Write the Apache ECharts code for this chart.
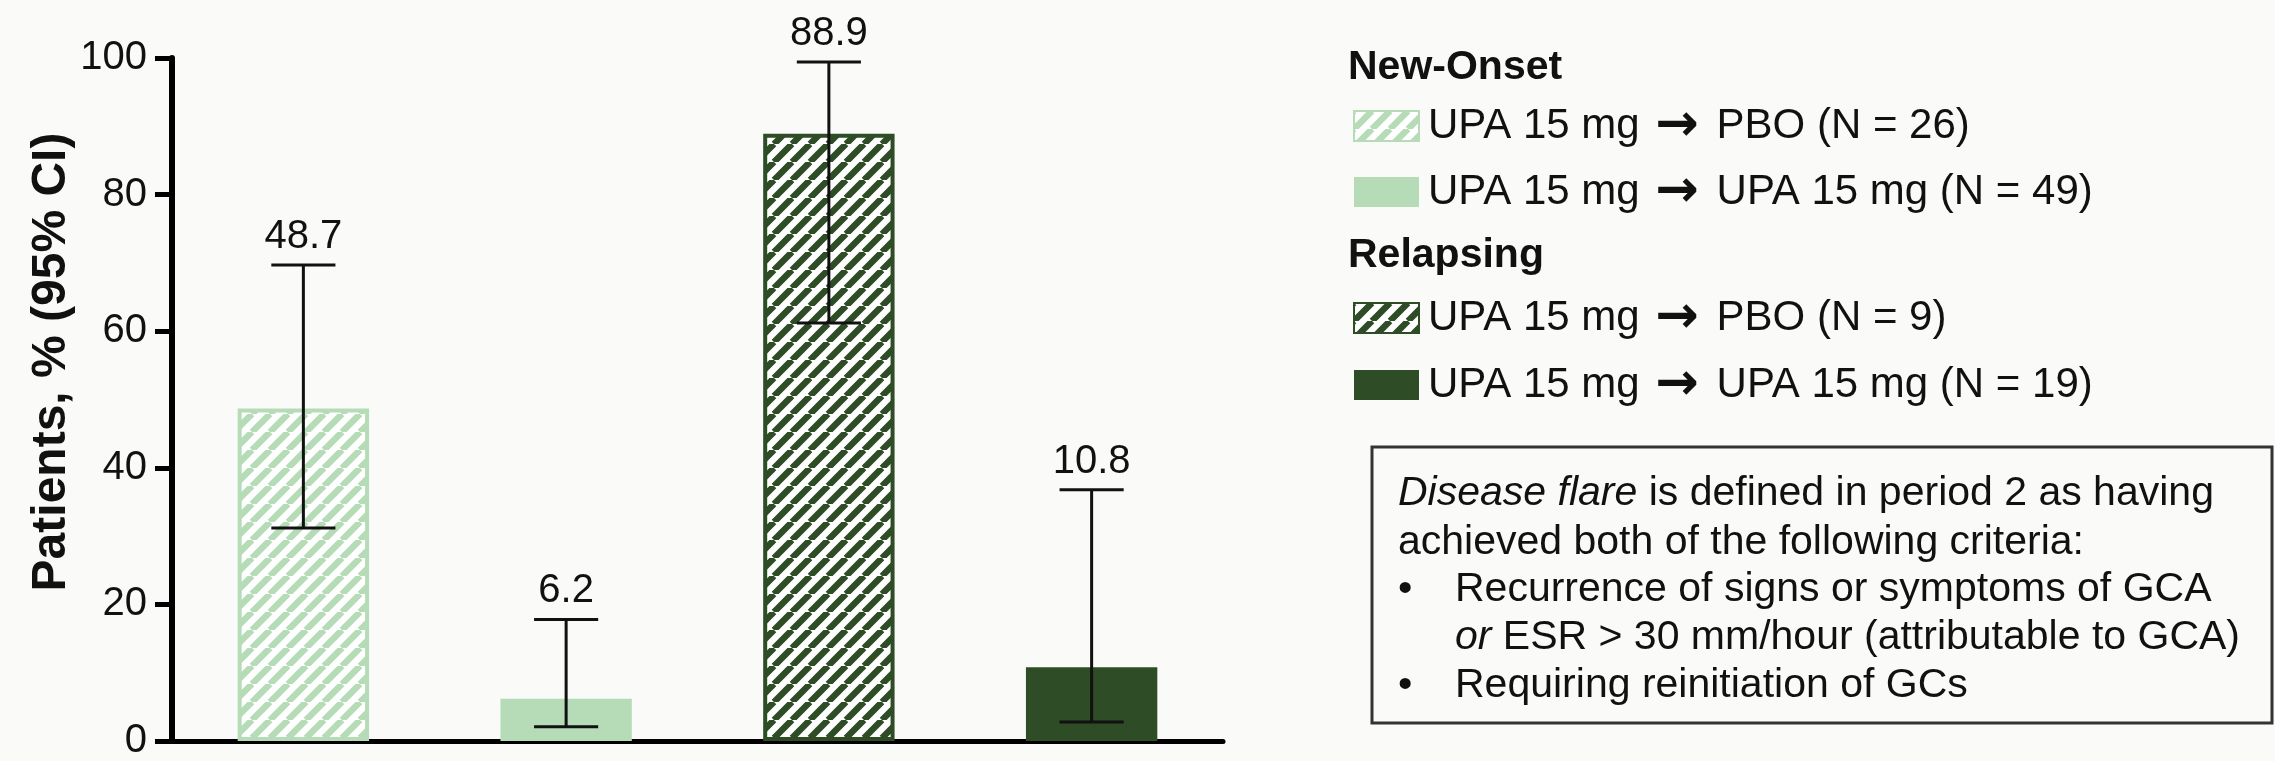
<!DOCTYPE html>
<html>
<head>
<meta charset="utf-8">
<script src="https://cdn.jsdelivr.net/npm/echarts@6/dist/echarts.min.js"></script>
<style>
  html, body { margin: 0; padding: 0; background: #fafaf8; }
  #chart { width: 2275px; height: 761px; }
</style>
</head>
<body>
<div id="chart"></div>
<script>
// data
const categories = ['New-Onset PBO', 'New-Onset UPA', 'Relapsing PBO', 'Relapsing UPA']
const seriesNames = [
  'UPA 15 mg → PBO (N = 26)',
  'UPA 15 mg → UPA 15 mg (N = 49)',
  'UPA 15 mg → PBO (N = 9)',
  'UPA 15 mg → UPA 15 mg (N = 19)'
]
const values = [48.7, 6.2, 88.9, 10.8]
const ciLow = [31.2, 2.1, 61.2, 2.8]
const ciHigh = [69.7, 17.8, 99.4, 36.8]
const yTicks = [0, 20, 40, 60, 80, 100]

const FONT = "'Liberation Sans', Arial, sans-serif"
const light = '#b5dcb7'
const dark = '#2e4c25'

function hatch(color, bg) {
  const s = 18
  const c = document.createElement('canvas')
  c.width = s
  c.height = s
  const ctx = c.getContext('2d')
  ctx.fillStyle = bg
  ctx.fillRect(0, 0, s, s)
  ctx.strokeStyle = color
  ctx.lineWidth = 6.5
  ctx.beginPath()
  for (const k of [-s, 0, s]) {
    ctx.moveTo(k, s)
    ctx.lineTo(k + s, 0)
  }
  ctx.stroke()
  return c
}

const styles = [
  { color: { image: hatch(light, '#ffffff'), repeat: 'repeat' }, borderColor: light, borderWidth: 4 },
  { color: light, borderWidth: 0 },
  { color: { image: hatch(dark, '#ffffff'), repeat: 'repeat' }, borderColor: dark, borderWidth: 4 },
  { color: dark, borderWidth: 0 }
]

const barSeries = seriesNames.map((name, k) => ({
  name: name,
  type: 'bar',
  barWidth: '50%',
  barGap: '-100%',
  itemStyle: styles[k],
  data: categories.map((_, i) => (i === k ? values[i] : '-')),
  z: 2
}))

const errorSeries = {
  type: 'custom',
  z: 5,
  encode: { x: 0, y: [1, 2] },
  data: values.map((v, i) => [i, ciLow[i], ciHigh[i], v]),
  renderItem: function (params, api) {
    const i = api.value(0)
    const top = api.coord([i, api.value(2)])
    const bot = api.coord([i, api.value(1)])
    const half = api.size([1, 0])[0] * 0.122
    const st = { stroke: '#111', lineWidth: 3 }
    return {
      type: 'group',
      children: [
        { type: 'line', shape: { x1: top[0], y1: top[1], x2: bot[0], y2: bot[1] }, style: st },
        { type: 'line', shape: { x1: top[0] - half, y1: top[1], x2: top[0] + half, y2: top[1] }, style: st },
        { type: 'line', shape: { x1: bot[0] - half, y1: bot[1], x2: bot[0] + half, y2: bot[1] }, style: st },
        {
          type: 'text',
          x: top[0],
          y: top[1] - 8,
          style: {
            text: api.value(3).toFixed(1),
            textAlign: 'center',
            textVerticalAlign: 'bottom',
            font: '40px ' + FONT,
            fill: '#111'
          }
        }
      ]
    }
  }
}

const legendText = {
  color: '#111',
  fontSize: 42,
  fontFamily: FONT,
  lineHeight: 30,
  padding: [0, 0, 0, 4],
  rich: {
    a: { fontFamily: 'DejaVu Sans', fontWeight: 'bold', fontSize: 52, lineHeight: 30, color: '#111', padding: [0, 6, 0, 4] }
  }
}
const legendFormatter = name => name.replace('→', '{a|→}')

const myChart = echarts.init(document.getElementById('chart'))
const option = {
  backgroundColor: '#fafaf8',
  animation: false,
  grid: { left: 172, right: 1052, top: 58, bottom: 13, containLabel: false },
  xAxis: {
    type: 'category',
    data: categories,
    axisLine: { show: true, lineStyle: { color: '#000', width: 5 } },
    axisTick: { show: false },
    axisLabel: { show: false }
  },
  yAxis: {
    type: 'value',
    min: yTicks[0],
    max: yTicks[yTicks.length - 1],
    interval: 20,
    axisLine: { show: true, lineStyle: { color: '#000', width: 6 } },
    axisTick: { show: true, length: 17, lineStyle: { color: '#000', width: 5 } },
    axisLabel: { fontSize: 40, color: '#111', fontFamily: FONT, margin: 25 },
    splitLine: { show: false }
  },
  legend: [
    {
      orient: 'vertical', left: 1348, top: 95, icon: 'rect',
      itemWidth: 65, itemHeight: 30, itemGap: 14, selectedMode: false,
      data: seriesNames.slice(0, 2), textStyle: legendText, formatter: legendFormatter
    },
    {
      orient: 'vertical', left: 1348, top: 287, icon: 'rect',
      itemWidth: 65, itemHeight: 30, itemGap: 15, selectedMode: false,
      data: seriesNames.slice(2, 4), textStyle: legendText, formatter: legendFormatter
    }
  ],
  graphic: [
    {
      type: 'text', x: 52, y: 362, rotation: Math.PI / 2,
      style: { text: 'Patients, % (95% CI)', textAlign: 'center', textVerticalAlign: 'middle', font: 'bold 48px ' + FONT, fill: '#111' }
    },
    { type: 'text', x: 1348, y: 47, style: { text: 'New-Onset', font: 'bold 41px ' + FONT, fill: '#111' } },
    { type: 'text', x: 1348, y: 235, style: { text: 'Relapsing', font: 'bold 41px ' + FONT, fill: '#111' } },
    {
      type: 'rect', shape: { x: 1372, y: 447, width: 900, height: 276 },
      style: { fill: 'none', stroke: '#333', lineWidth: 3 }
    },
    {
      type: 'text', x: 1398, y: 473,
      style: {
        text: '{i|Disease flare} is defined in period 2 as having',
        font: '41px ' + FONT, fill: '#111',
        rich: { i: { fontStyle: 'italic', fontSize: 41, fontFamily: FONT, fill: '#111' } }
      }
    },
    { type: 'text', x: 1398, y: 522, style: { text: 'achieved both of the following criteria:', font: '41px ' + FONT, fill: '#111' } },
    { type: 'text', x: 1398, y: 569, style: { text: '•', font: '41px ' + FONT, fill: '#111' } },
    { type: 'text', x: 1455, y: 569, style: { text: 'Recurrence of signs or symptoms of GCA', font: '41px ' + FONT, fill: '#111' } },
    {
      type: 'text', x: 1455, y: 617,
      style: {
        text: '{i|or} ESR > 30 mm/hour (attributable to GCA)',
        font: '41px ' + FONT, fill: '#111',
        rich: { i: { fontStyle: 'italic', fontSize: 41, fontFamily: FONT, fill: '#111' } }
      }
    },
    { type: 'text', x: 1398, y: 665, style: { text: '•', font: '41px ' + FONT, fill: '#111' } },
    { type: 'text', x: 1455, y: 665, style: { text: 'Requiring reinitiation of GCs', font: '41px ' + FONT, fill: '#111' } }
  ],
  series: barSeries.concat([errorSeries])
}

option && myChart.setOption(option)
</script>
</body>
</html>
